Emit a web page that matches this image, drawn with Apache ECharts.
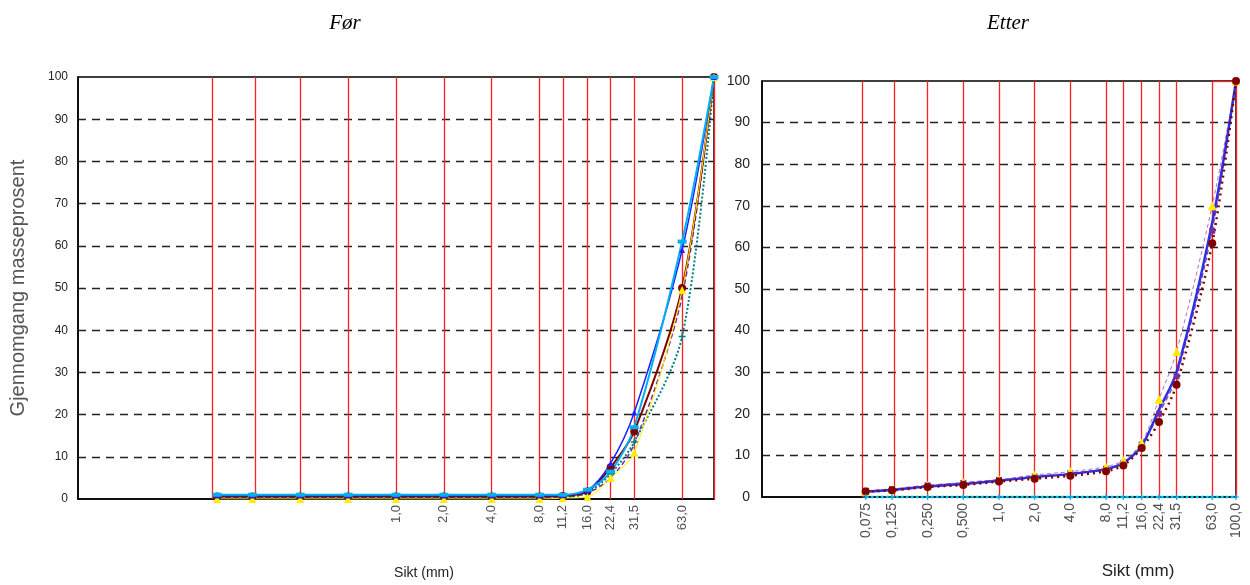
<!DOCTYPE html>
<html><head><meta charset="utf-8">
<script src="https://cdn.jsdelivr.net/npm/echarts@6/dist/echarts.min.js"></script>
<style>html,body{margin:0;padding:0;background:#fff}#c{width:1250px;height:585px}</style>
</head><body><div id="c"></div>
<script>
const sieves = [0.075,0.125,0.25,0.5,1,2,4,8,11.2,16,22.4,31.5,63,100];
const sieveLabels = ['0,075','0,125','0,250','0,500','1,0','2,0','4,0','8,0','11,2','16,0','22,4','31,5','63,0','100,0'];
const forLabelShown = [false,false,false,false,true,true,true,true,true,true,true,true,true,false];
const yTicks = [0,10,20,30,40,50,60,70,80,90,100];

// Før
const forBlue    = [0.8,0.8,0.8,0.8,0.8,0.8,0.8,0.8,0.9,2.0,8.5,20.5,59,100];
const forCyan    = [1.0,1.0,1.0,1.0,1.0,1.0,1.0,1.0,1.0,2.2,6.5,17,61,100];
const forDarkRed = [0.6,0.6,0.6,0.6,0.6,0.6,0.6,0.6,0.7,1.8,7.5,16,50,100];
const forYellow  = [0,0,0,0,0,0,0,0,0.2,0.5,5,11,49.5,100];
const forTeal    = [0.3,0.3,0.3,0.3,0.3,0.3,0.3,0.3,0.4,1.5,6,13.5,38.5,100];
const forPurple  = [0.3,0.3,0.3,0.3,0.3,0.3,0.3,0.3,0.4,1.4,5,13,48,100];

// Etter
const etterDarkRed = [1.3,1.6,2.4,2.9,3.7,4.4,5.1,6.2,7.6,11.8,18,27,61,100];
const etterYellow  = [1.4,1.8,2.7,3.5,4.2,5.3,6.1,7.3,8.8,13,23.5,35,70,100];
const etterBlue    = [1.3,1.7,2.5,3.1,3.9,4.8,5.5,6.7,8.2,12.3,21,30,66,100];
const etterPurple  = [1.5,1.9,2.8,3.4,4.1,4.9,5.7,6.8,8.2,12.6,20,29,64,100];
const etterCyan    = [0,0,0,0,0,0,0,0,0,0,0,0,0,0];

const plus = 'path://M4,0H6V4H10V6H6V10H4V6H0V4H4Z';
const pair = arr => sieves.map((s,i)=>[s,arr[i]]);

function axes(gi, showName, ylabSize){
  const x = {
    type:'log', logBase:10, min:0.01, max:100, gridIndex:gi,
    axisLine:{show:true, onZero:false, lineStyle:{color:'#000', width:1.5}},
    axisTick:{show:false}, axisLabel:{show:false}, splitLine:{show:false},
    name:'Sikt (mm)', nameLocation:'middle', nameGap: gi===0?67:66,
    nameTextStyle:{fontFamily:'Liberation Sans', fontSize: gi===0?14:17, color:'#222',
      padding: gi===0?[0,0,0,56]:[0,0,0,278]}
  };
  const y = {
    type:'value', min:0, max:100, interval:10, gridIndex:gi,
    axisLine:{show:true, lineStyle:{color:'#000', width:1.5}},
    axisTick:{show:false},
    axisLabel:{fontFamily:'Liberation Sans', fontSize:ylabSize, color:'#222', margin: gi===0?10:12},
    splitLine:{show:true, showMinLine:false, showMaxLine:false, lineStyle:{color:'#222', type:[8,6], width:1.3}},
  };
  if (showName){
    y.name = 'Gjennomgang masseprosent';
    y.nameLocation = 'middle'; y.nameGap = 50; y.nameRotate = 90;
    y.nameTextStyle = {fontFamily:'Liberation Sans', fontSize:20, color:'#555'};
  }
  return [x,y];
}

function gridSeries(gi, shownFlags){
  const ml = sieves.map(s=>({xAxis:s}));
  if (gi===1) ml.push([{coord:[63,100]},{coord:[100,100]}]);
  return {
    type:'scatter', xAxisIndex:gi, yAxisIndex:gi, symbolSize:0, silent:true, clip:false, z:1,
    data: sieves.map((s,i)=>({value:[s,0], label:{show: shownFlags[i]}})),
    label:{show:true, position:'bottom', distance: 6, rotate:90, align:'right', verticalAlign:'middle',
      fontFamily:'Liberation Sans', fontSize: gi===0?13:14, color:'#222',
      formatter: p => sieveLabels[p.dataIndex]},
    markLine:{silent:true, symbol:'none', animation:false, label:{show:false},
      lineStyle:{color:'#ff2020', width:1.3, type:'solid'},
      data: ml}
  };
}

function line(gi, data, color, opts){
  return Object.assign({
    type:'line', xAxisIndex:gi, yAxisIndex:gi, data:pair(data), animation:false,
    symbol:'circle', symbolSize:5, z:5, smooth:0.3,
    lineStyle:{color:color, width:1.5}, itemStyle:{color:color}
  }, opts||{});
}

const [x0,y0] = axes(0, true, 12);
const [x1,y1] = axes(1, false, 14);

const option = {
  animation:false,
  backgroundColor:'#fff',
  title:[
    {text:'Før', left:340, top:8, textAlign:'center', textStyle:{fontFamily:'Liberation Serif', fontStyle:'italic', fontWeight:'normal', fontSize:21, color:'#000'}},
    {text:'Etter', left:1003, top:8, textAlign:'center', textStyle:{fontFamily:'Liberation Serif', fontStyle:'italic', fontWeight:'normal', fontSize:21, color:'#000'}}
  ],
  grid:[
    {left:77, top:77, width:637, height:428, show:true, borderColor:'#000', borderWidth:1.5, backgroundColor:'transparent'},
    {left:762, top:81, width:474, height:428, show:true, borderColor:'#000', borderWidth:1.5, backgroundColor:'transparent'}
  ],
  xAxis:[x0,x1],
  yAxis:[y0,y1],
  series:[
    gridSeries(0, forLabelShown),
    gridSeries(1, sieves.map(()=>true)),
    line(0, forPurple, '#7030a0', {symbol:'none', lineStyle:{color:'#7030a0', width:1.5, type:[5,3]}}),
    line(0, forTeal, '#008080', {symbol:plus, symbolSize:7, lineStyle:{color:'#008080', width:2, type:'dotted'}}),
    line(0, forDarkRed, '#800000', {symbolSize:8, lineStyle:{color:'#800000', width:2}}),
    line(0, forYellow, '#ffee00', {symbol:'triangle', symbolSize:8, lineStyle:{color:'#ffee00', width:1}}),
    line(0, forBlue, '#2020ff', {symbol:'triangle', symbolSize:6, lineStyle:{color:'#2020ff', width:1.5}}),
    line(0, forCyan, '#00b0f0', {symbol:'rect', symbolSize:[9,4], lineStyle:{color:'#00b0f0', width:2}}),

    line(1, etterCyan, '#00b0f0', {symbol:plus, symbolSize:6, smooth:false, clip:false, z:20, lineStyle:{color:'#00c0f0', width:2.5, type:[3,2]}}),
    line(1, etterPurple, '#7030a0', {symbol:'rect', symbolSize:6, lineStyle:{color:'#8040b0', width:1.3, type:[5,3]}}),
    line(1, etterYellow, '#ffee00', {symbol:'triangle', symbolSize:9, lineStyle:{color:'#b070c0', width:1, type:[4,3]}}),
    line(1, etterBlue, '#3030e0', {symbol:'none', lineStyle:{color:'#3030e0', width:2.5}}),
    line(1, etterDarkRed, '#800000', {symbolSize:8, lineStyle:{color:'#800000', width:2.5, type:[2,4]}})
  ]
};
const chart = echarts.init(document.getElementById('c'), null, {renderer:'canvas'});
chart.setOption(option);
</script></body></html>
